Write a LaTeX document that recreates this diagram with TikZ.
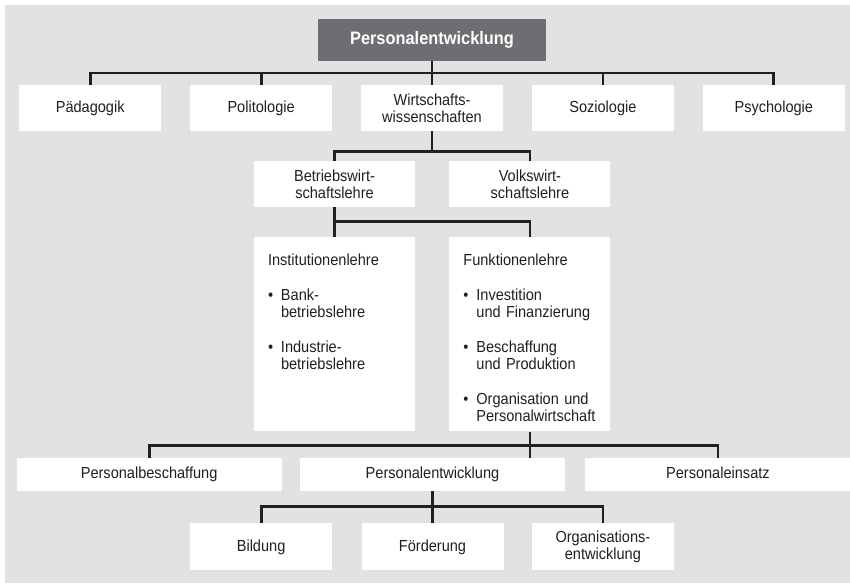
\documentclass[tikz,border=0pt]{standalone}
\usepackage{fontspec}
\setmainfont{Liberation Sans}[FakeStretch=0.91]
\usetikzlibrary{positioning, calc}
\definecolor{Cbg}{RGB}{225,226,228}
\definecolor{Chead}{RGB}{109,110,113}
\definecolor{Cline}{RGB}{35,31,32}
\colorlet{Ctext}{Cline}
\newcommand\chartfont{\fontsize{16}{17}\selectfont}
\newcommand\listitem[2]{\par\vspace{18pt}\makebox[13pt][l]{\textbullet}#1\\\hspace*{13pt}#2}
\tikzset{
  headbox/.style={fill=Chead, text=white, inner sep=0pt,
    minimum width=228pt, minimum height=42pt,
    font=\fontsize{18}{18}\selectfont\bfseries},
  fieldbox/.style={fill=white, text=Ctext, inner sep=0pt, align=center,
    minimum width=142pt, minimum height=46pt, font=\chartfont},
  subbox/.style={fill=white, text=Ctext, inner sep=0pt, align=center,
    minimum width=161pt, minimum height=46pt, font=\chartfont},
  listbox/.style={fill=white, text=Ctext, inner xsep=14pt, inner ysep=0pt,
    text width=133pt, align=left, text height=28.5pt, text depth=165.5pt,
    font=\chartfont},
  taskbox/.style={fill=white, text=Ctext, inner sep=0pt,
    minimum width=265pt, minimum height=33pt, text height=11.6pt,
    text depth=3.4pt, font=\chartfont},
  tree/.style={draw=Cline, line width=2.8pt, line join=miter},
}

\begin{document}
\begin{tikzpicture}[x=1pt, y=1pt, node distance=28.5pt]

\useasboundingbox (0,0) rectangle (850,-583);
\fill[Cbg] (5,-5) rectangle (850,-583);

%%==========================================================================
%% TOP — root and the five disciplines
%%==========================================================================

\node[headbox] (pe) at (432,-40) {Personalentwicklung};

\node[fieldbox] (wiwi) at (432,-108) {Wirtschafts-\\wissenschaften};
\node[fieldbox, left=of wiwi] (poli) {Politologie};
\node[fieldbox, left=of poli] (paed) {Pädagogik};
\node[fieldbox, right=of wiwi] (sozio) {Soziologie};
\node[fieldbox, right=of sozio] (psych) {Psychologie};

%%==========================================================================
%% MIDDLE — economics and business administration
%%==========================================================================

\node[subbox] (bwl) at (334.5,-184) {Betriebswirt-\\schaftslehre};
\node[subbox, right=34pt of bwl] (vwl) {Volkswirt-\\schaftslehre};

\node[listbox, below=30pt of bwl] (inst)
  {Institutionenlehre
   \listitem{Bank-}{betriebslehre}
   \listitem{Industrie-}{betriebslehre}};

\node[listbox, right=34pt of inst] (funk)
  {Funktionenlehre
   \listitem{Investition}{und Finanzierung}
   \listitem{Beschaffung}{und Produktion}
   \listitem{Organisation und}{Personalwirtschaft}};

%%==========================================================================
%% BOTTOM — personnel tasks and development fields
%%==========================================================================

\node[taskbox] (pent) at (432.5,-474.5) {Personalentwicklung};
\node[taskbox, left=18pt of pent] (pbes) {Personalbeschaffung};
\node[taskbox, right=20pt of pent] (pein) {Personaleinsatz};

\node[fieldbox, minimum height=47pt, below=32pt of pent] (foerd) {Förderung};
\node[fieldbox, minimum height=47pt, left=29pt of foerd] (bild) {Bildung};
\node[fieldbox, minimum height=47pt, right=28pt of foerd] (orgent)
  {Organisations-\\entwicklung};

%%==========================================================================
%% CONNECTORS — tree lines
%%==========================================================================

\coordinate (bus1) at ($(pe.south)!0.5!(wiwi.north)$);
\draw[tree] (paed.north) |- (bus1) -| (psych.north);
\draw[tree] (pe.south) -- (wiwi.north);
\draw[tree] (poli.north) -- (poli.north |- bus1);
\draw[tree] (sozio.north) -- (sozio.north |- bus1);

\coordinate (bus2) at ($(wiwi.south)+(0,-20)$);
\draw[tree] (wiwi.south) -- (bus2);
\draw[tree] (bwl.north) |- (bus2) -| (vwl.north);

\coordinate (bus3) at ($(bwl.south)+(0,-14)$);
\draw[tree] (bwl.south) -- (bwl.south |- inst.north);
\draw[tree] (bus3) -| (funk.north);

\coordinate (bus4) at ($(funk.south)+(0,-14)$);
\draw[tree] (funk.south) -- (funk.south |- pent.north);
\draw[tree] (pbes.north) |- (bus4) -| (pein.north);

\coordinate (bus5) at ($(pent.south)+(0,-15)$);
\draw[tree] (pent.south) -- (foerd.north);
\draw[tree] (bild.north) |- (bus5) -| (orgent.north);

\end{tikzpicture}
\end{document}
